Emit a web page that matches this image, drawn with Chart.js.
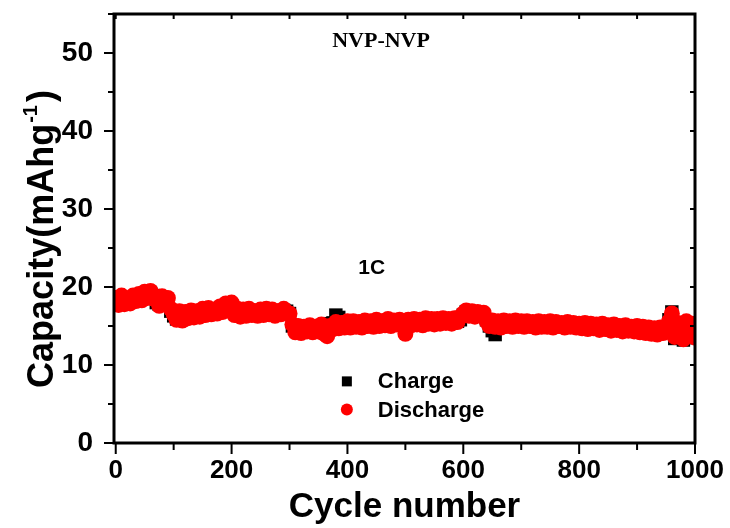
<!DOCTYPE html>
<html>
<head>
<meta charset="utf-8">
<title>NVP-NVP cycling</title>
<script src="https://cdn.jsdelivr.net/npm/chart.js@4.4.1/dist/chart.umd.min.js"></script>
<style>
    body { margin: 0; background: #fff; }
    #wrap { width: 730px; height: 528px; }
</style>
</head>
<body>
<div id="wrap"><canvas id="cycleChart" width="730" height="528"></canvas></div>
<script>
// one sample every 5 cycles, cycle 0 .. 1000
var CYCLE_STEP = 5;

var chargeCapacity = [
    18.0, 18.1, 18.2, 17.8, 18.3, 18.4, 18.2, 18.6, 18.5, 18.7, 18.8, 19.0, 19.2, 18.9, 18.0, 17.8, 18.2, 18.4, 18.0, 16.9, 16.3,
    15.9, 16.2, 16.0, 16.3, 16.4, 16.5, 16.2, 16.6, 16.5, 16.7, 17.0, 16.6, 16.8, 17.0, 16.8, 17.2, 17.1, 17.5, 17.8, 17.5,
    16.9, 16.5, 16.7, 16.6, 16.9, 16.8, 16.7, 16.5, 17.0, 16.8, 16.6, 16.8, 16.7, 16.9, 16.9, 16.8, 16.8, 17.0, 16.9, 16.6,
    15.0, 14.8, 14.5, 14.7, 14.6, 14.8, 14.6, 14.9, 14.8, 15.0, 14.6, 14.8, 14.5, 15.3, 15.4, 16.4, 16.1, 15.3, 15.2, 15.3,
    15.2, 15.0, 15.3, 15.2, 15.4, 15.3, 15.1, 15.3, 15.5, 15.4, 15.2, 15.4, 15.3, 15.5, 15.4, 15.4, 15.6, 15.4, 15.3, 15.2,
    15.5, 15.5, 15.4, 15.6, 15.6, 15.5, 15.7, 15.6, 15.5, 15.5, 15.6, 15.6, 15.5, 15.7, 15.5, 15.6, 15.6, 15.6, 15.8, 16.4,
    16.8, 16.8, 16.5, 16.7, 16.6, 16.5, 16.4, 15.8, 15.0, 14.4, 13.9, 15.2, 15.2, 15.3, 15.3, 15.3, 15.1, 15.2, 15.4, 15.3,
    15.3, 15.2, 15.4, 15.3, 15.2, 15.1, 15.3, 15.3, 15.2, 15.2, 15.1, 15.3, 15.3, 15.0, 15.2, 15.2, 15.1, 15.1, 15.0, 15.0,
    14.9, 14.8, 15.0, 14.9, 14.9, 14.7, 14.8, 15.0, 14.8, 14.8, 14.7, 14.7, 14.6, 14.8, 14.7, 14.6, 14.5, 14.7, 14.6, 14.5,
    14.4, 14.6, 14.5, 14.5, 14.3, 14.4, 14.2, 14.3, 14.4, 14.5, 15.8, 16.8, 13.4, 15.0, 14.8, 13.2, 15.0, 14.3, 14.9, 13.5
];

var dischargeCapacity = [
    18.6, 17.7, 18.9, 17.8, 18.5, 17.9, 18.9, 18.2, 19.1, 18.3, 19.4, 18.6, 19.5, 18.5, 18.7, 17.6, 18.8, 18.2, 18.6, 17.2, 16.5,
    15.8, 16.9, 15.7, 16.8, 16.0, 17.0, 16.1, 16.9, 16.2, 17.2, 16.4, 17.3, 16.5, 17.1, 16.6, 17.5, 16.8, 17.9, 17.3, 18.0,
    16.4, 17.2, 16.2, 17.1, 16.3, 17.2, 16.4, 16.9, 16.3, 17.1, 16.4, 17.2, 16.5, 17.1, 16.3, 16.9, 16.5, 17.2, 16.7, 16.6,
    15.2, 14.2, 15.0, 14.1, 14.9, 14.3, 15.1, 14.2, 14.9, 14.3, 15.2, 14.0, 13.7, 15.0, 14.6, 15.5, 14.7, 15.4, 14.8, 15.6,
    14.8, 15.6, 14.9, 15.5, 14.8, 15.7, 15.0, 15.6, 14.9, 15.8, 15.0, 15.6, 15.1, 15.9, 15.0, 15.7, 15.2, 15.8, 15.1, 14.0,
    15.8, 15.1, 15.9, 15.2, 15.8, 15.1, 16.0, 15.3, 15.9, 15.2, 15.9, 15.3, 16.0, 15.4, 15.9, 15.3, 16.0, 15.5, 16.2, 16.6,
    17.0, 16.3, 16.9, 16.2, 16.8, 16.4, 16.7, 15.6, 15.0, 15.7, 14.9, 15.6, 14.8, 15.7, 15.0, 15.6, 14.9, 15.7, 15.0, 15.6,
    14.9, 15.6, 15.0, 15.5, 14.8, 15.6, 14.9, 15.5, 14.9, 15.6, 14.8, 15.5, 15.0, 15.4, 14.8, 15.5, 14.9, 15.4, 14.8, 15.3,
    14.7, 15.4, 14.6, 15.3, 14.7, 15.2, 14.5, 15.3, 14.6, 15.1, 14.4, 15.2, 14.5, 15.0, 14.3, 15.1, 14.4, 14.9, 14.3, 15.0,
    14.2, 14.9, 14.1, 14.8, 14.0, 14.7, 13.9, 14.8, 14.1, 14.9, 15.6, 16.6, 13.6, 15.4, 14.2, 13.3, 15.6, 13.9, 15.3, 13.5
];

var xTickValues = [0, 200, 400, 600, 800, 1000];
var yTickValues = [0, 10, 20, 30, 40, 50];
var X_MINOR_STEP = 100;
var Y_MINOR_STEP = 5;

var SANS = '"Liberation Sans", Arial, sans-serif';
var SERIF = '"Liberation Serif", "Times New Roman", serif';

function toPoints(values) {
    return values.map(function (v, i) {
        return { x: i * CYCLE_STEP, y: v };
    });
}

// keep the plot box where the layout padding puts it
function zeroPadding(scale) {
    scale.paddingTop = 0;
    scale.paddingRight = 0;
    scale.paddingBottom = 0;
    scale.paddingLeft = 0;
}

// box, tick marks (major + minor) on all four sides
var framePlugin = {
    id: 'frame',
    afterDatasetsDraw: function (chart) {
        var ctx = chart.ctx;
        var a = chart.chartArea;
        var xs = chart.scales.x;
        var ys = chart.scales.y;
        ctx.save();
        ctx.strokeStyle = '#000';
        ctx.lineWidth = 2;
        ctx.beginPath();
        for (var cx = 0; cx <= xs.max; cx += X_MINOR_STEP) {
            var px = xs.getPixelForValue(cx);
            var len = xTickValues.indexOf(cx) >= 0 ? 11 : 7;
            ctx.moveTo(px, a.bottom);
            ctx.lineTo(px, a.bottom + len);
            ctx.moveTo(px, a.top);
            ctx.lineTo(px, a.top + 5);
        }
        for (var cy = 0; cy <= ys.max; cy += Y_MINOR_STEP) {
            var py = ys.getPixelForValue(cy);
            var ylen = yTickValues.indexOf(cy) >= 0 ? 10 : 6;
            ctx.moveTo(a.left, py);
            ctx.lineTo(a.left - ylen, py);
            ctx.moveTo(a.right, py);
            ctx.lineTo(a.right - 5, py);
        }
        ctx.stroke();
        ctx.lineWidth = 3;
        ctx.strokeRect(a.left, a.top, a.right - a.left, a.bottom - a.top);
        ctx.restore();
    }
};

// y title with superscript, in-plot labels and the legend
var labelPlugin = {
    id: 'labels',
    afterDraw: function (chart) {
        var ctx = chart.ctx;
        var xs = chart.scales.x;
        var ys = chart.scales.y;
        ctx.save();
        ctx.fillStyle = '#000';

        // y axis title
        var mainFont = 'bold 36px ' + SANS;
        var supFont = 'bold 20px ' + SANS;
        ctx.font = mainFont;
        var w1 = ctx.measureText('Capacity(mAhg').width;
        var w3 = ctx.measureText(')').width;
        ctx.font = supFont;
        var w2 = ctx.measureText('-1').width;
        var total = w1 + w2 + w3 + 4;
        ctx.translate(53, 239);
        ctx.rotate(-Math.PI / 2);
        ctx.textBaseline = 'alphabetic';
        ctx.textAlign = 'left';
        var sx = -total / 2;
        ctx.font = mainFont;
        ctx.fillText('Capacity(mAhg', sx, 0);
        ctx.font = supFont;
        ctx.fillText('-1', sx + w1 + 1, -16);
        ctx.font = mainFont;
        ctx.fillText(')', sx + w1 + w2 + 4, 0);
        ctx.setTransform(1, 0, 0, 1, 0, 0);

        ctx.textAlign = 'center';
        ctx.textBaseline = 'middle';
        ctx.font = 'bold 22px ' + SERIF;
        ctx.fillText('NVP-NVP', xs.getPixelForValue(458), ys.getPixelForValue(51.5));
        ctx.font = 'bold 21px ' + SANS;
        ctx.fillText('1C', xs.getPixelForValue(442), ys.getPixelForValue(22.4));

        // legend
        var lx = xs.getPixelForValue(399);
        var textX = lx + 31;
        ctx.textAlign = 'left';
        ctx.font = 'bold 22px ' + SANS;
        chart.data.datasets.slice().sort(function (p, q) { return q.order - p.order; })
            .forEach(function (ds, i) {
                var ly = ys.getPixelForValue(i === 0 ? 7.9 : 4.3);
                ctx.fillStyle = ds.backgroundColor;
                ctx.beginPath();
                if (ds.pointStyle === 'rect') {
                    ctx.rect(lx - 5, ly - 5, 10, 10);
                } else {
                    ctx.arc(lx, ly, 6, 0, Math.PI * 2);
                }
                ctx.fill();
                ctx.fillStyle = '#000';
                ctx.fillText(ds.label, textX, ly + 1);
            });
        ctx.restore();
    }
};

function makeCycleChart() {
    var canvas = document.getElementById('cycleChart');
    new Chart(canvas, {
        type: 'scatter',
        data: {
            datasets: [
                {
                    label: 'Charge',
                    data: toPoints(chargeCapacity),
                    pointStyle: 'rect',
                    pointRadius: 9.5,
                    borderWidth: 0,
                    backgroundColor: '#000000',
                    order: 1
                },
                {
                    label: 'Discharge',
                    data: toPoints(dischargeCapacity),
                    pointStyle: 'circle',
                    pointRadius: 8,
                    borderWidth: 0,
                    backgroundColor: '#ff0000',
                    order: 0
                }
            ]
        },
        options: {
            responsive: false,
            animation: false,
            layout: { padding: { top: 14, right: 35, left: 0, bottom: 0 } },
            plugins: {
                legend: { display: false },
                tooltip: { enabled: false }
            },
            scales: {
                x: {
                    type: 'linear',
                    min: -3,
                    max: 1000,
                    grid: { display: false },
                    border: { display: false },
                    afterBuildTicks: function (scale) {
                        scale.ticks = xTickValues.map(function (v) { return { value: v }; });
                    },
                    afterFit: function (scale) {
                        scale.height = 85;
                        zeroPadding(scale);
                    },
                    ticks: {
                        color: '#000',
                        padding: 4,
                        maxRotation: 0,
                        font: { family: SANS, size: 26, weight: 'bold' },
                        callback: function (v) { return String(v); }
                    },
                    title: {
                        display: true,
                        text: 'Cycle number',
                        color: '#000',
                        padding: { top: 0, bottom: 0 },
                        font: { family: SANS, size: 35, weight: 'bold' }
                    }
                },
                y: {
                    min: 0,
                    max: 55,
                    grid: { display: false },
                    border: { display: false },
                    afterBuildTicks: function (scale) {
                        scale.ticks = yTickValues.map(function (v) { return { value: v }; });
                    },
                    afterFit: function (scale) {
                        scale.width = 114;
                        zeroPadding(scale);
                    },
                    ticks: {
                        color: '#000',
                        padding: 13,
                        font: { family: SANS, size: 28, weight: 'bold' },
                        callback: function (v) { return String(v); }
                    }
                }
            }
        },
        plugins: [framePlugin, labelPlugin]
    });
}

makeCycleChart();
</script>
</body>
</html>
